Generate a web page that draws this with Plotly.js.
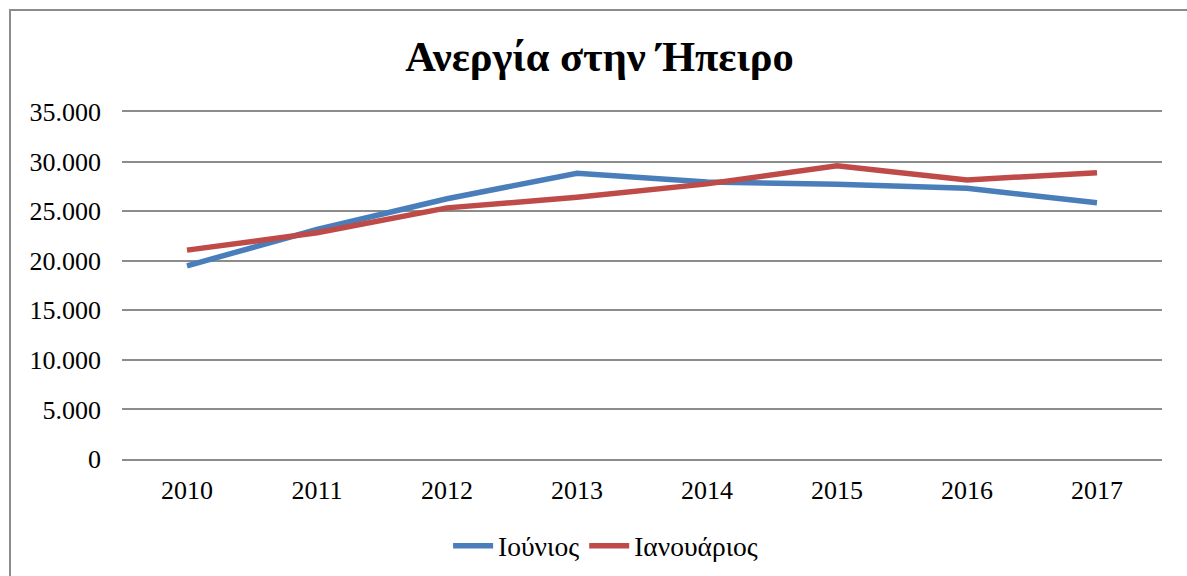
<!DOCTYPE html>
<html>
<head>
<meta charset="utf-8">
<script src="https://cdn.plot.ly/plotly-3.0.1.min.js"></script>
<style>
  html, body { margin: 0; padding: 0; background: #fff; overflow: hidden; }
  #wrap { position: relative; width: 1187px; height: 576px; }
  #chart { width: 1187px; height: 576px; }
  #frame { position: absolute; left: 9px; top: 9px; width: 1200px; height: 600px;
           border-top: 2px solid #8c8c8c; border-left: 2px solid #8c8c8c; pointer-events: none; }
</style>
</head>
<body>
<div id="wrap">
  <div id="chart"></div>
  <div id="frame"></div>
</div>
<script>
const years = ['2010', '2011', '2012', '2013', '2014', '2015', '2016', '2017'];
const june = [19480, 23150, 26250, 28820, 27950, 27700, 27300, 25850];
const january = [21070, 22820, 25330, 26400, 27750, 29580, 28150, 28880];
const seriesNames = ['Ιούνιος', 'Ιανουάριος'];
const yTicks = [0, 5000, 10000, 15000, 20000, 25000, 30000, 35000];

const serif = 'Liberation Serif, Times New Roman, serif';

const traces = [
  { x: years, y: june, name: seriesNames[0], type: 'scatter', mode: 'lines',
    line: { color: '#4A7EBB', width: 5.5 } },
  { x: years, y: january, name: seriesNames[1], type: 'scatter', mode: 'lines',
    line: { color: '#BE4B48', width: 5.5 } }
];

const layout = {
  width: 1187, height: 576,
  margin: { l: 122, r: 25, t: 112, b: 117, autoexpand: false },
  paper_bgcolor: '#fff', plot_bgcolor: '#fff',
  separators: ',.',
  title: { text: '<b>Ανεργία στην Ήπειρο</b>', font: { family: serif, size: 42.5, color: '#000' },
           x: 0.505, xanchor: 'center', y: 0.902, yanchor: 'middle' },
  xaxis: { type: 'category', range: [-0.5, 7.5], showgrid: false, zeroline: false,
           showline: true, mirror: true, linecolor: '#8c8c8c', linewidth: 2,
           ticks: '', tickfont: { family: serif, size: 26, color: '#000' }, ticklabelstandoff: 7 },
  yaxis: { range: [0, 35000], tickvals: yTicks, tickformat: ',d', showgrid: true,
           gridcolor: '#8c8c8c', gridwidth: 2, zeroline: false, showline: false, ticks: '',
           tickfont: { family: serif, size: 26, color: '#000' }, ticklabelstandoff: 20 },
  showlegend: true,
  legend: { orientation: 'h', x: 0.465, xanchor: 'center', y: -0.25, yanchor: 'middle',
            font: { family: serif, size: 27.5, color: '#000' }, itemwidth: 40 }
};

Plotly.newPlot('chart', traces, layout, { displayModeBar: false, staticPlot: true });
</script>
</body>
</html>
